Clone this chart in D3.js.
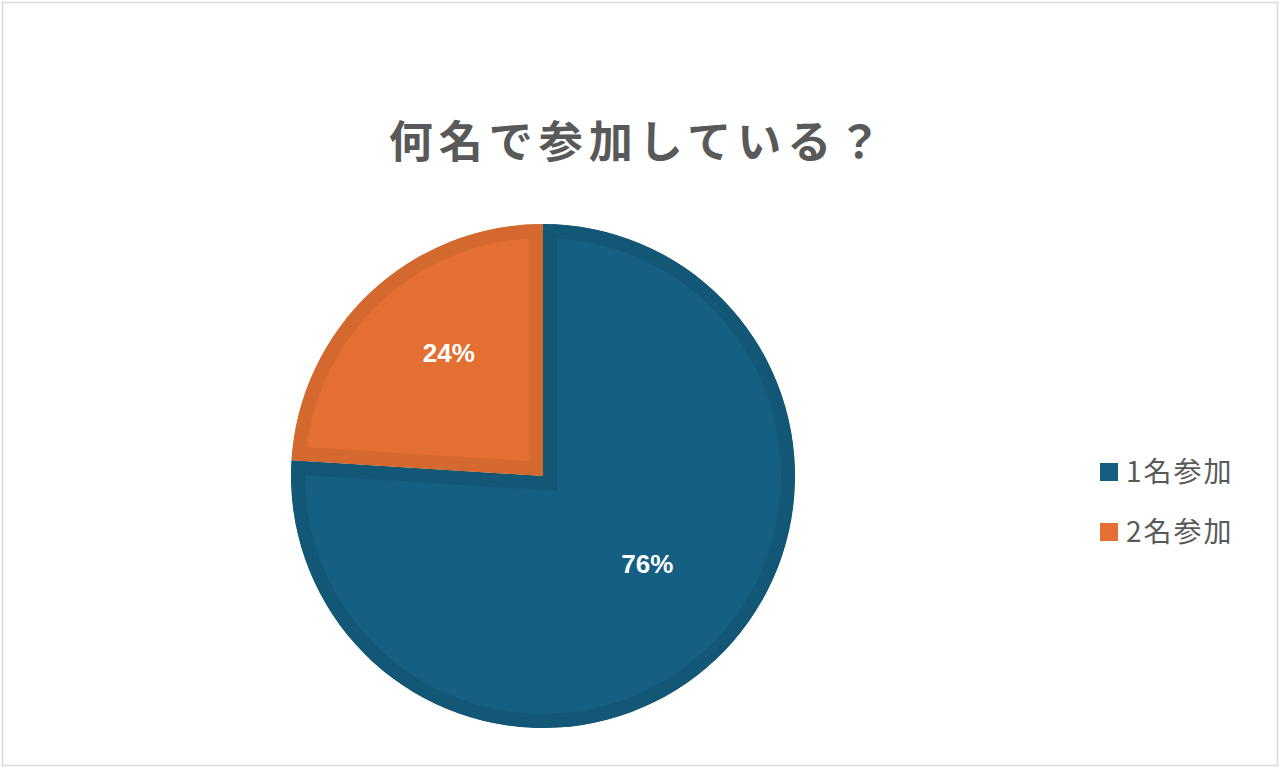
<!DOCTYPE html>
<html>
<head>
    <meta charset="utf-8">
    <title>何名で参加している？</title>
    <script src="https://d3js.org/d3.v7.min.js"></script>
    <style>
        body { margin: 0; background: #fff; }
        svg { display: block; }
    </style>
</head>
<body>
    <div id="chart"></div>
    <script>
        // data
        const title = "何名で参加している？";
        const categories = ["1名参加", "2名参加"];
        const values = [76, 24];
        const colors = ["#156082", "#e46f32"];
        const borderColors = ["#135776", "#d4692f"];

        const W = 1280, H = 768;
        const cx = 543, cy = 476, R = 252;

        const svg = d3.select("#chart").append("svg")
            .attr("width", W).attr("height", H);

        // chart border
        svg.append("rect")
            .attr("x", 2.5).attr("y", 2.5)
            .attr("width", W - 5).attr("height", H - 5)
            .attr("fill", "#fff").attr("stroke", "#d9d9d9").attr("stroke-width", 1.5);

        svg.append("text")
            .attr("x", 638).attr("y", 158)
            .attr("text-anchor", "middle")
            .attr("font-family", "'Noto Sans CJK JP', sans-serif")
            .attr("font-weight", "bold")
            .attr("font-size", 44)
            .attr("letter-spacing", 6)
            .attr("fill", "#595959")
            .text(title);

        const pie = d3.pie().sort(null).value(d => d)(values);
        const arc = d3.arc().innerRadius(0).outerRadius(R);
        const labelArc = d3.arc().innerRadius(145).outerRadius(145);

        const g = svg.append("g").attr("transform", `translate(${cx},${cy})`);
        const defs = svg.append("defs");

        pie.forEach((p, i) => {
            defs.append("clipPath").attr("id", "clip" + i)
                .append("path").attr("d", arc(p));
            // inset border: stroke clipped to the slice
            g.append("path")
                .attr("d", arc(p))
                .attr("fill", colors[i])
                .attr("stroke", borderColors[i])
                .attr("stroke-width", 28)
                .attr("clip-path", `url(#clip${i})`);
        });

        g.selectAll("text.lbl")
            .data(pie).join("text")
            .attr("class", "lbl")
            .attr("transform", d => {
                const [x, y] = labelArc.centroid(d);
                return `translate(${x + 5},${y - 18})`;
            })
            .attr("text-anchor", "middle")
            .attr("dy", "0.36em")
            .attr("font-family", "'Liberation Sans', Arial, sans-serif")
            .attr("font-weight", "bold")
            .attr("font-size", 26)
            .attr("fill", "#fff")
            .text(d => d.data + "%");

        // legend
        const legend = svg.append("g").attr("transform", "translate(1100,472)");
        const item = legend.selectAll("g")
            .data(categories).join("g")
            .attr("transform", (d, i) => `translate(0,${i * 60})`);
        item.append("rect")
            .attr("x", 0).attr("y", -9)
            .attr("width", 18).attr("height", 18)
            .attr("fill", (d, i) => colors[i]);
        item.append("text")
            .attr("x", 26).attr("y", 0)
            .attr("dy", "0.36em")
            .attr("font-family", "'Noto Sans CJK JP', sans-serif")
            .attr("font-size", 28)
            .attr("letter-spacing", 2)
            .attr("fill", "#595959")
            .text(d => d);
    </script>
</body>
</html>
